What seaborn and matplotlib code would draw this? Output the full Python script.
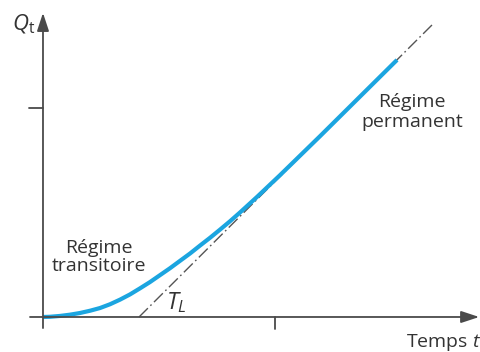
import numpy as np
import pandas as pd
import matplotlib.pyplot as plt
import seaborn as sns

# courbe de débit Qt(t) (unités arbitraires)
temps = [0, 0.30, 0.73, 1.16, 1.59, 2.03, 2.46, 2.89, 3.32, 3.75, 4.18, 4.61,
         5.04, 5.47, 5.91, 6.34, 6.77, 7.20, 7.63, 8.06, 8.49, 9.22, 10.22,
         11.94, 15.26]
debit = [0, 0.01, 0.05, 0.11, 0.19, 0.30, 0.43, 0.61, 0.83, 1.08, 1.37, 1.67,
         2.00, 2.33, 2.69, 3.04, 3.42, 3.79, 4.18, 4.58, 5.00, 5.74, 6.79,
         8.65, 12.30]

# asymptote (régime permanent)
tangente_t = [4.14, 16.81]
tangente_q = [0, 14.02]

tick_x = 10
tick_y = 10

sns.set_style('white')
plt.rcParams['font.family'] = ['Open Sans', 'DejaVu Sans']
plt.rcParams['mathtext.fontset'] = 'custom'
plt.rcParams['mathtext.it'] = 'Open Sans:italic'
plt.rcParams['mathtext.rm'] = 'Open Sans'

gris = '#4a4a4a'
texte = '#333333'
bleu = '#1ba5e0'
fs = 14

fig = plt.figure(figsize=(4.8, 3.52), dpi=100)
ax = fig.add_axes([0, 0, 1, 1])
ax.set_xlim(-1.853, 18.836)
ax.set_ylim(-1.675, 15.167)
ax.axis('off')

df = pd.DataFrame({'t': temps, 'q': debit})
dft = pd.DataFrame({'t': tangente_t, 'q': tangente_q})

sns.lineplot(data=dft, x='t', y='q', ax=ax, color='#555555', lw=1.0,
             dashes=False, zorder=2)
ax.lines[-1].set_dashes([9, 2.5, 1.2, 2.5])
sns.lineplot(data=df, x='t', y='q', ax=ax, color=bleu, lw=3.0, zorder=3,
             solid_capstyle='butt', solid_joinstyle='round')

# axes avec flèches
arrow = dict(arrowstyle='-|>,head_length=1.0,head_width=0.33', color=gris,
             lw=1.3, mutation_scale=11, shrinkA=0, shrinkB=0)
ax.annotate('', xy=(18.8, 0), xytext=(-0.56, 0), arrowprops=arrow)
ax.annotate('', xy=(0, 14.55), xytext=(0, -0.53), arrowprops=arrow)
ax.plot([tick_x, tick_x], [0, -0.57], color=gris, lw=1.3)
ax.plot([-0.6, 0], [tick_y, tick_y], color=gris, lw=1.3)

ax.text(-1.32, 13.73, r'$Q_{\mathrm{t}}$', fontsize=16, color=texte, va='baseline')
ax.text(2.41, 3.06, 'Régime', fontsize=fs, color=texte, ha='center', va='baseline')
ax.text(2.41, 2.18, 'transitoire', fontsize=fs, color=texte, ha='center', va='baseline')
ax.text(15.9, 10.05, 'Régime', fontsize=fs, color=texte, ha='center', va='baseline')
ax.text(15.9, 9.11, 'permanent', fontsize=fs, color=texte, ha='center', va='baseline')
ax.text(5.3, 0.38, r'$T_L$', fontsize=17, color=texte, va='baseline')
ax.text(15.65, -1.435, r'Temps $t$', fontsize=fs, color=texte, va='baseline')

fig.savefig('out.png', dpi=100)
